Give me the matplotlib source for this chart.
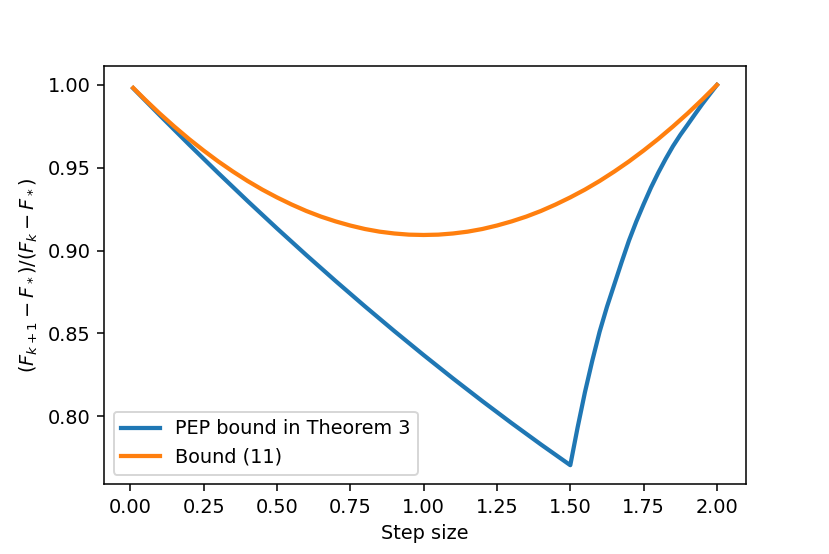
import numpy as np
import matplotlib
matplotlib.use("Agg")
import matplotlib.pyplot as plt

# values
step_pep = [0.01, 0.1, 0.2, 0.3, 0.4, 0.5, 0.6, 0.7, 0.8, 0.9, 1.0, 1.1, 1.2, 1.3, 1.4, 1.5,
            1.525, 1.55, 1.575, 1.6, 1.625, 1.65, 1.675, 1.7, 1.725, 1.75, 1.775, 1.8,
            1.825, 1.85, 1.875, 1.9, 1.925, 1.95, 1.975, 2.0]
rate_pep = [0.998, 0.9818, 0.9641, 0.9468, 0.9299, 0.9134, 0.8973, 0.8816, 0.8663, 0.8514,
            0.8369, 0.8228, 0.8091, 0.7958, 0.7829, 0.7704,
            0.7932, 0.8145, 0.8335, 0.851, 0.866, 0.8795, 0.893, 0.906, 0.9175, 0.928,
            0.938, 0.947, 0.9553, 0.963, 0.9698, 0.976, 0.9823, 0.9885, 0.9943, 1.000]

step_bound = [0.01, 0.05, 0.1, 0.15, 0.2, 0.25, 0.3, 0.35, 0.4, 0.45, 0.5, 0.55, 0.6, 0.65,
              0.7, 0.75, 0.8, 0.85, 0.9, 0.95, 1.0, 1.05, 1.1, 1.15, 1.2, 1.25, 1.3, 1.35,
              1.4, 1.45, 1.5, 1.55, 1.6, 1.65, 1.7, 1.75, 1.8, 1.85, 1.9, 1.95, 2.0]
rate_bound = [0.9982, 0.9912, 0.9828, 0.9749, 0.9674, 0.9604, 0.9538, 0.9477, 0.9420, 0.9368,
              0.9321, 0.9278, 0.9239, 0.9205, 0.9176, 0.9151, 0.9130, 0.9114, 0.9103, 0.9096,
              0.9094, 0.9096, 0.9103, 0.9114, 0.9130, 0.9151, 0.9176, 0.9205, 0.9239, 0.9278,
              0.9321, 0.9368, 0.9420, 0.9477, 0.9538, 0.9604, 0.9674, 0.9749, 0.9828, 0.9912,
              1.0000]

fig = plt.figure(figsize=(6.0, 4.005), dpi=138.33)
ax = fig.add_axes([0.1253, 0.126, 0.7737, 0.755])

ax.plot(step_pep, rate_pep, lw=2.2, label="PEP bound in Theorem 3")
ax.plot(step_bound, rate_bound, lw=2.2, label="Bound (11)")

ax.set_xlabel("Step size")
ax.set_ylabel(r"$(F_{k+1}-F_*)/(F_k-F_*)$")
ax.set_xticks(np.arange(0, 2.01, 0.25))
ax.legend(loc="lower left")

fig.savefig("out.png", dpi=138.33)
